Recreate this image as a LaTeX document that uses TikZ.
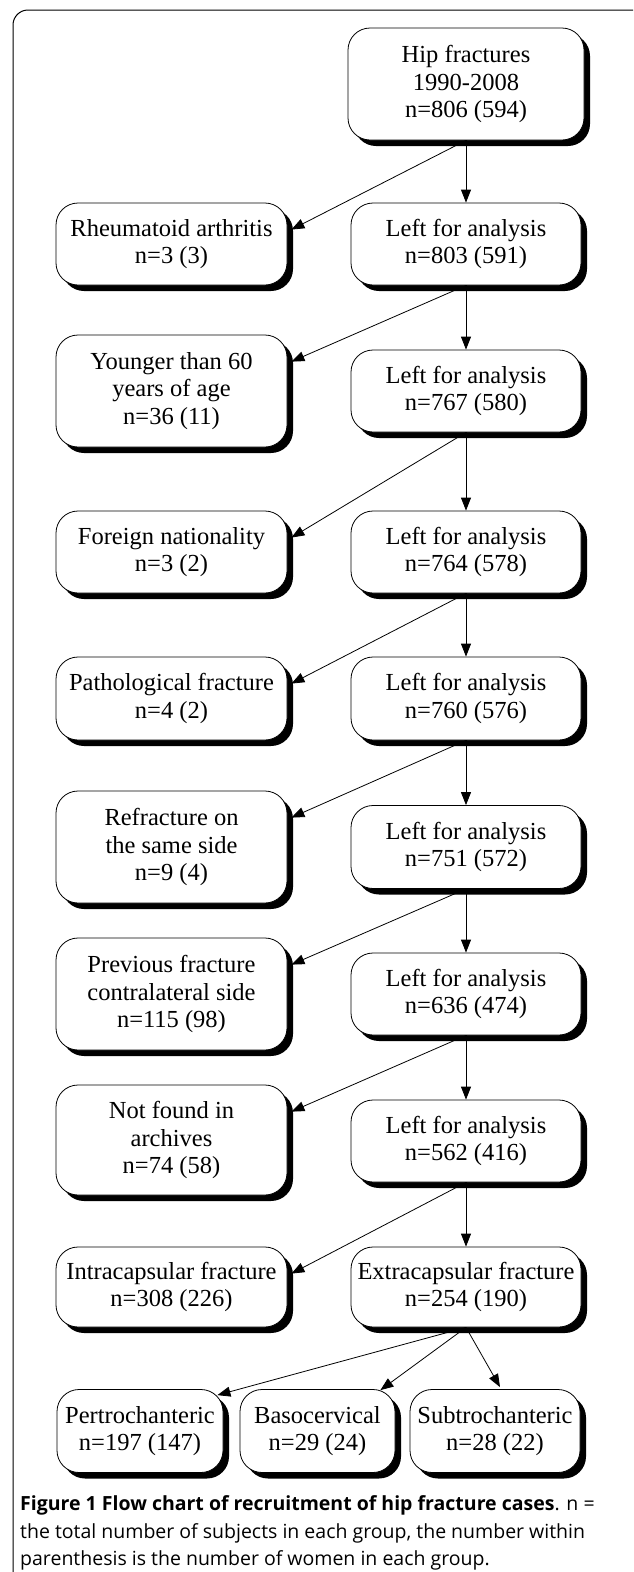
\documentclass[tikz,border=0pt]{standalone}
\usepackage{fontspec}
\setmainfont{Liberation Serif}
\newfontfamily\capfont{Open Sans}
\usetikzlibrary{arrows.meta,calc}
\tikzset{
  box/.style={draw, line width=0.8pt, rounded corners=22pt, fill=white, align=center,
    inner sep=0pt, font=\fontsize{24.5pt}{27.5pt}\selectfont,
    preaction={fill=black, transform canvas={shift={(6pt,-6pt)}}}},
  sz/.style 2 args={minimum width=#1pt, minimum height=#2pt},
  arr/.style={line width=0.8pt, -{Triangle[length=13pt,width=10pt]}},
  captext/.style={anchor=base west, inner sep=0pt, font=\capfont\fontsize{19.5pt}{27pt}\selectfont},
  outerframe/.style={line width=1pt, rounded corners=15pt}
}
\begin{document}
\begin{tikzpicture}[x=1pt,y=-1pt]
\useasboundingbox (0,0) rectangle (633,1572);
\clip (0,0) rectangle (633,1572);
\fill[white] (0,0) rectangle (633,1572);
\draw[outerframe] (13,1600) -- (13,10) -- (648,10) -- (648,1600);

\node[box, sz={236}{112}] (hip) at (466,84) {Hip fractures\\1990-2008\\n=806 (594)};
\node[box, sz={231}{82}] (rh) at (171.5,244) {Rheumatoid arthritis\\n=3 (3)};
\node[box, sz={230}{82}] (l1) at (466,244) {Left for analysis\\n=803 (591)};
\node[box, sz={231}{112}] (yo) at (171.5,391) {Younger than 60\\years of age\\n=36 (11)};
\node[box, sz={230}{82}] (l2) at (466,391) {Left for analysis\\n=767 (580)};
\node[box, sz={231}{82}] (fo) at (171.5,552) {Foreign nationality\\n=3 (2)};
\node[box, sz={230}{82}] (l3) at (466,552) {Left for analysis\\n=764 (578)};
\node[box, sz={231}{83}] (pa) at (171.5,698.5) {Pathological fracture\\n=4 (2)};
\node[box, sz={230}{83}] (l4) at (466,698.5) {Left for analysis\\n=760 (576)};
\node[box, sz={231}{112}] (re) at (171.5,847) {Refracture on\\the same side\\n=9 (4)};
\node[box, sz={230}{83}] (l5) at (466,847) {Left for analysis\\n=751 (572)};
\node[box, sz={231}{112}] (pr) at (171.5,994) {Previous fracture\\contralateral side\\n=115 (98)};
\node[box, sz={230}{82}] (l6) at (466,994) {Left for analysis\\n=636 (474)};
\node[box, sz={231}{110}] (nf) at (171.5,1140) {Not found in\\archives\\n=74 (58)};
\node[box, sz={230}{82}] (l7) at (466,1141) {Left for analysis\\n=562 (416)};
\node[box, sz={231}{80}] (ic) at (171.5,1287) {Intracapsular fracture\\n=308 (226)};
\node[box, sz={230}{80}] (ec) at (466,1287) {Extracapsular fracture\\n=254 (190)};
\node[box, sz={166}{83}] (pt) at (140,1431) {Pertrochanteric\\n=197 (147)};
\node[box, sz={155}{83}] (bc) at (317.5,1431) {Basocervical\\n=29 (24)};
\node[box, sz={170}{83}] (st) at (495,1431) {Subtrochanteric\\n=28 (22)};

\foreach \a/\b/\c in {hip/l1/rh, l1/l2/yo, l2/l3/fo, l3/l4/pa, l4/l5/re, l5/l6/pr, l6/l7/nf, l7/ec/ic} {
  \draw[arr] (\a.south) -- (\b.north);
  \draw[arr] (\a.south) -- ([shift={(4,27)}]\c.north east);
}
\draw[arr] (ec.south) -- ([shift={(-6,6)}]pt.north east);
\draw[arr] (ec.south) -- ([shift={(-15,1)}]bc.north east);
\draw[arr] (ec.south) -- ([shift={(5,-2)}]st.north);

\node[captext] (c1) at (20,1510) {{\bfseries Figure 1 Flow chart of recruitment of hip fracture cases}. n =};
\node[captext] (c2) at (20,1538) {the total number of subjects in each group, the number within};
\node[captext] (c3) at (20,1565) {parenthesis is the number of women in each group.};
\end{tikzpicture}
\end{document}
